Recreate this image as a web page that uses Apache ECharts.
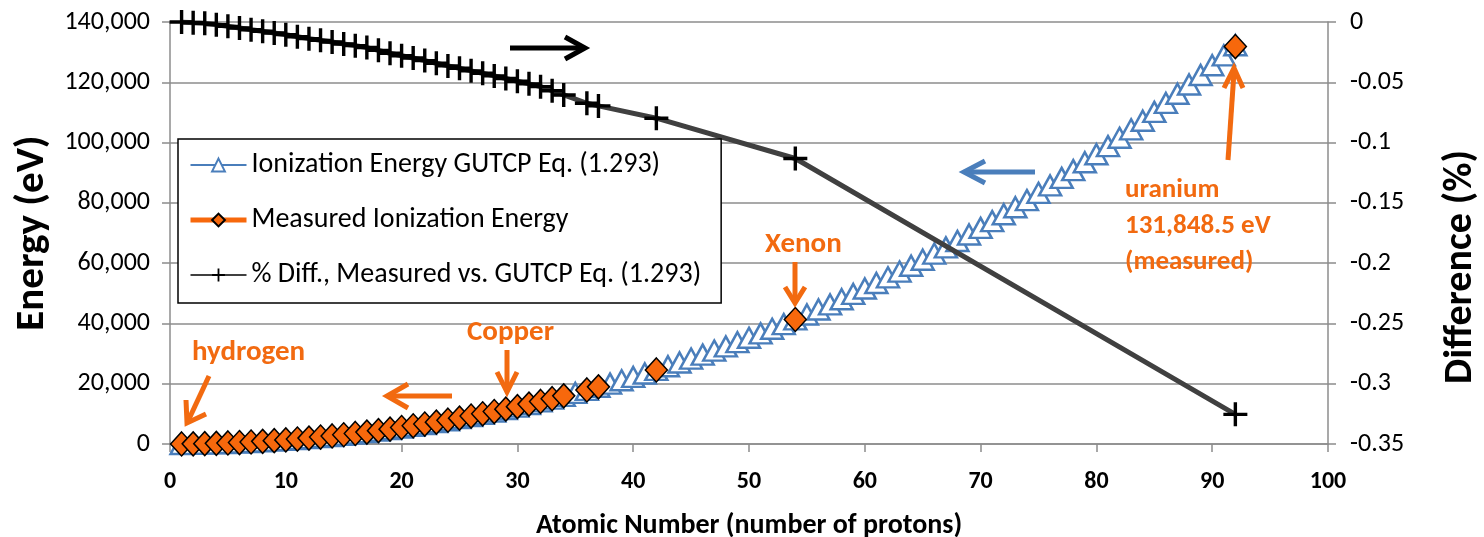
<!DOCTYPE html>
<html>
<head>
<meta charset="utf-8">
<script src="https://cdn.jsdelivr.net/npm/echarts@6/dist/echarts.min.js"></script>
<style>
html,body{margin:0;padding:0;background:#fff;}
#chart{width:1484px;height:537px;}
</style>
</head>
<body>
<div id="chart"></div>
<script>
// ---- data ----
const gutcpZ = [1,2,3,4,5,6,7,8,9,10,11,12,13,14,15,16,17,18,19,20,21,22,23,24,25,26,27,28,29,30,31,32,33,34,35,36,37,38,39,40,41,42,43,44,45,46,47,48,49,50,51,52,53,54,55,56,57,58,59,60,61,62,63,64,65,66,67,68,69,70,71,72,73,74,75,76,77,78,79,80,81,82,83,84,85,86,87,88,89,90,91,92];
const gutcpEnergy = [13.6,54.4,122.5,217.7,340.3,490.0,667.1,871.5,1103.3,1362.4,1648.9,1963.0,2304.6,2673.7,3070.5,3495.0,3947.3,4427.4,4935.5,5471.6,6035.7,6628.2,7248.8,7898.0,8575.5,9281.7,10016.7,10780.6,11573.4,12395.4,13246.8,14127.4,15037.9,15978.0,16948.0,17948.2,18978.6,20039.5,21131.2,22253.6,23407.2,24592.3,25808.7,27056.9,28337.2,29649.9,30995.0,32372.9,33784.0,35228.6,36706.8,38219.0,39765.6,41346.8,42963.1,44614.8,46302.3,48025.9,49786.1,51583.3,53419,55292,57203,59153,61142,63171,65241,67351,69504,71698,73935,76216,78541,80911,83326,85788,88297,90854,93460,96116,98823,101582,104393,107259,110179,113157,116192,119286,122439,125656,128936,132280];

const measuredZ = [1,2,3,4,5,6,7,8,9,10,11,12,13,14,15,16,17,18,19,20,21,22,23,24,25,26,27,28,29,30,31,32,33,34,36,37,42,54,92];
const measuredEnergy = [13.6,54.4,122.5,217.7,340.2,490.0,667.0,871.4,1103.2,1362.3,1648.7,1962.7,2304.3,2673.3,3069.9,3494.3,3946.5,4426.4,4934.2,5470.1,6033.9,6626.1,7246.3,7895.1,8572.2,9277.9,10012.4,10775.8,11568.0,12389.3,13240.0,14119.8,15029.3,15968.3,17936.1,18965.4,24572.7,41300.0,131848.5];
const diffPercent = [0.0000,-0.0006,-0.0011,-0.0022,-0.0036,-0.0050,-0.0064,-0.0077,-0.0091,-0.0105,-0.0122,-0.0138,-0.0152,-0.0166,-0.0182,-0.0196,-0.0212,-0.0235,-0.0259,-0.0280,-0.0299,-0.0320,-0.0342,-0.0364,-0.0384,-0.0405,-0.0425,-0.0447,-0.0469,-0.0491,-0.0513,-0.0536,-0.0570,-0.0605,-0.0674,-0.0696,-0.0798,-0.1132,-0.3254];

const seriesNames = ['Ionization Energy GUTCP Eq. (1.293)','Measured Ionization Energy','% Diff., Measured vs. GUTCP Eq. (1.293)'];
const xAxisTitle = 'Atomic Number (number of protons)';
const leftAxisTitle = 'Energy (eV)';
const rightAxisTitle = 'Difference (%)';

// ---- styling ----
const FONT = 'Carlito, Lato, "Open Sans", sans-serif';
const BLUE = '#4a7ebb', ORANGE = '#f7680c', DARK = '#404040', GRID = '#8c8c8c';
const ANN = '#f26a10';

const chart = echarts.init(document.getElementById('chart'), null, {renderer:'canvas'});

const gutcpData = gutcpZ.map((z,i)=>[z, gutcpEnergy[i]]);
const measData = measuredZ.map((z,i)=>[z, measuredEnergy[i]]);
const diffData = measuredZ.map((z,i)=>[z, diffPercent[i]]);

const crossPath = 'path://M10.3,0H13.7V24H10.3Z M0,10.3H24V13.7H0Z';

function arrow(points, head, color){
  return [
    {type:'polyline', shape:{points:points}, style:{stroke:color, lineWidth:5, fill:null}, z:100},
    {type:'polyline', shape:{points:head}, style:{stroke:color, lineWidth:5, fill:null, lineJoin:'miter'}, z:100}
  ];
}
function label(text, x, y, size){
  return {type:'text', x:x, y:y, z:100, style:{text:text, fill:ANN, font:'bold '+size+'px '+FONT, textVerticalAlign:'middle'}};
}

const option = {
  animation:false,
  backgroundColor:'#fff',
  textStyle:{fontFamily:FONT},
  grid:{left:170, right:156, top:22, bottom:93, containLabel:false, outerBoundsMode:'none'},
  legend:{
    orient:'vertical', left:178, top:139,
    backgroundColor:'#fff', borderColor:'#000', borderWidth:1.5,
    padding:[12,20,14,10], itemGap:27, itemWidth:56, itemHeight:16,
    textStyle:{fontSize:28, color:'#000', fontFamily:FONT},
    data:[
      {name:seriesNames[0]},
      {name:seriesNames[1], lineStyle:{opacity:1, width:5, color:ORANGE}},
      {name:seriesNames[2]}
    ],
    z:50
  },
  xAxis:{
    type:'value', min:0, max:100, interval:10,
    axisLine:{show:true, onZero:false, lineStyle:{color:GRID, width:1.5}},
    axisTick:{show:true, length:8, lineStyle:{color:GRID, width:1.5}},
    splitLine:{show:false},
    axisLabel:{fontSize:24, fontWeight:'bold', color:'#000', margin:26, fontFamily:FONT},
    name:xAxisTitle, nameLocation:'middle', nameGap:68,
    nameTextStyle:{fontSize:28, fontWeight:'bold', color:'#000', fontFamily:FONT}
  },
  yAxis:[
    {
      type:'value', min:0, max:140000, interval:20000, position:'left',
      axisLine:{show:true, lineStyle:{color:GRID, width:1.5}},
      axisTick:{show:true, length:8, lineStyle:{color:GRID, width:1.5}},
      splitLine:{show:true, lineStyle:{color:GRID, width:1.5}},
      axisLabel:{fontSize:26, color:'#000', margin:20, fontFamily:FONT,
        formatter:v=>v.toLocaleString('en-US')},
      name:leftAxisTitle, nameLocation:'middle', nameGap:112, nameRotate:90,
      nameTextStyle:{fontSize:41, fontWeight:'bold', color:'#000', fontFamily:FONT}
    },
    {
      type:'value', min:-0.35, max:0, interval:0.05, position:'right',
      axisLine:{show:true, lineStyle:{color:GRID, width:1.5}},
      axisTick:{show:true, length:8, lineStyle:{color:GRID, width:1.5}},
      splitLine:{show:false},
      axisLabel:{fontSize:26, color:'#000', margin:22, fontFamily:FONT,
        formatter:v=>String(parseFloat(v.toFixed(2)))}
    }
  ],
  series:[
    {
      name:seriesNames[0], type:'line', yAxisIndex:0, data:gutcpData,
      symbol:'triangle', symbolSize:[22,20], showAllSymbol:true,
      itemStyle:{color:'#fff', borderColor:BLUE, borderWidth:2.5},
      lineStyle:{color:BLUE, width:3}, z:2
    },
    {
      name:seriesNames[1], type:'line', yAxisIndex:0, data:measData,
      symbol:'diamond', symbolSize:[22,24], showAllSymbol:true,
      itemStyle:{color:ORANGE, borderColor:'#000', borderWidth:1.5},
      lineStyle:{color:ORANGE, width:5, opacity:0}, z:3
    },
    {
      name:seriesNames[2], type:'line', yAxisIndex:1, data:diffData,
      symbol:crossPath, symbolSize:24, showAllSymbol:true,
      itemStyle:{color:'#000'},
      lineStyle:{color:DARK, width:5}, z:4
    }
  ],
  graphic:[].concat(
    arrow([[510,48],[582,48]], [[565,37],[585,48],[565,59]], '#000'),
    arrow([[1035,172],[967,172]], [[985,161],[964,172],[985,183]], BLUE),
    arrow([[452,396],[390,396]], [[408,384],[387,396],[408,408]], ANN),
    arrow([[507,350],[507,389]], [[497,372],[507,392],[517,372]], ANN),
    arrow([[795,262],[795,300]], [[785,287],[795,303],[805,287]], ANN),
    arrow([[209,376],[189,419]], [[186,400],[187,423],[206,414]], ANN),
    arrow([[1228,160],[1234,72]], [[1224,88],[1234,68],[1243,88]], ANN),
    [
      label('hydrogen',192,353,29),
      label('Copper',467,333,29),
      label('Xenon',765,245,29),
      label('uranium',1125,190,27),
      label('131,848.5 eV',1125,226,27),
      label('(measured)',1125,262,27),
      {type:'text', x:1461, y:267, rotation:Math.PI/2, z:100,
       style:{text:rightAxisTitle, fill:'#000', font:'bold 40px '+FONT, align:'center', verticalAlign:'middle'}}
    ]
  )
};
chart.setOption(option);
</script>
</body>
</html>
